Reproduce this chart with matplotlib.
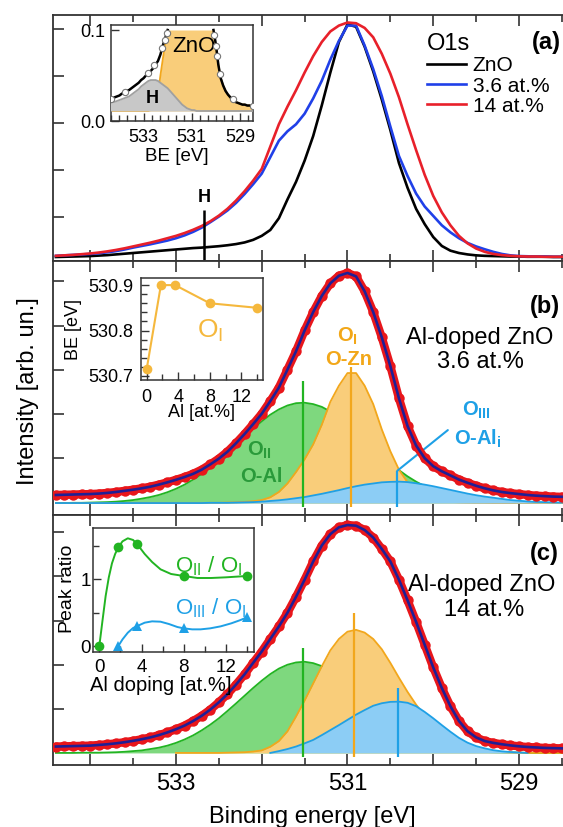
import numpy as np
import matplotlib
matplotlib.use("Agg")
import matplotlib.pyplot as plt
from matplotlib.ticker import MultipleLocator, FuncFormatter

plt.rcParams['font.family'] = ['Liberation Sans', 'DejaVu Sans']
plt.rcParams['mathtext.fontset'] = 'custom'
plt.rcParams['mathtext.rm'] = 'Liberation Sans'
plt.rcParams['mathtext.it'] = 'Liberation Sans:italic'
plt.rcParams['mathtext.bf'] = 'Liberation Sans:bold'

nan = np.nan

# ---------------- data ----------------
be = np.round(np.arange(534.4, 528.45, -0.1), 1)   # binding-energy sampling grid (eV)

# panel (a): normalised O1s spectra
zno_a = [0.000, 0.001, 0.002, 0.003, 0.004, 0.006, 0.008, 0.011, 0.014, 0.017,
         0.020, 0.023, 0.026, 0.029, 0.032, 0.035, 0.038, 0.040, 0.043, 0.046,
         0.050, 0.055, 0.062, 0.073, 0.090, 0.115, 0.165, 0.245, 0.320, 0.410,
         0.515, 0.645, 0.785, 0.915, 0.990, 0.980, 0.895, 0.790, 0.670, 0.540,
         0.400, 0.295, 0.205, 0.140, 0.085, 0.047, 0.027, 0.017, 0.011, 0.007,
         0.005, 0.004, 0.003, 0.002, 0.002, 0.001, 0.001, 0.001, 0.000, 0.000]
al36_a = [0.005, 0.007, 0.009, 0.011, 0.013, 0.016, 0.020, 0.025, 0.032, 0.040,
          0.047, 0.054, 0.062, 0.070, 0.080, 0.092, 0.107, 0.125, 0.148, 0.172,
          0.198, 0.230, 0.268, 0.310, 0.355, 0.425, 0.495, 0.535, 0.565, 0.610,
          0.675, 0.750, 0.840, 0.920, 0.985, 0.985, 0.900, 0.800, 0.685, 0.555,
          0.430, 0.345, 0.270, 0.215, 0.175, 0.135, 0.105, 0.080, 0.060, 0.045,
          0.033, 0.022, 0.013, 0.007, 0.004, 0.003, 0.002, 0.002, 0.001, 0.001]
al14_a = [0.005, 0.007, 0.009, 0.012, 0.015, 0.019, 0.024, 0.030, 0.037, 0.045,
          0.053, 0.061, 0.070, 0.080, 0.090, 0.102, 0.116, 0.132, 0.152, 0.176,
          0.205, 0.240, 0.280, 0.325, 0.375, 0.470, 0.565, 0.640, 0.710, 0.785,
          0.855, 0.915, 0.960, 0.985, 0.998, 0.995, 0.975, 0.935, 0.865, 0.780,
          0.680, 0.565, 0.455, 0.350, 0.260, 0.190, 0.135, 0.090, 0.058, 0.036,
          0.022, 0.013, 0.008, 0.005, 0.003, 0.002, 0.002, 0.001, 0.001, 0.001]
legend_labels = ['ZnO', '3.6 at.%', '14 at.%']
h_position = 532.67
h_top = 0.20

# inset (a): ZnO O1s close-up (clipped at 0.1)
inset_base = 0.011
inset_a_total = [0.024, 0.025, 0.026, 0.027, 0.028, 0.030, 0.031, 0.033, 0.034, 0.036,
                 0.038, 0.040, 0.042, 0.045, 0.047, 0.050, 0.052, 0.055, 0.058, 0.062,
                 0.066, 0.073, 0.083, 0.091, 0.100, nan, nan, nan, nan, nan,
                 nan, nan, nan, nan, nan, nan, nan, nan, nan, nan,
                 nan, nan, nan, 0.100, 0.084, 0.062, 0.047, 0.039, 0.033, 0.029,
                 0.026, 0.023, 0.021, 0.020, 0.019, 0.018, 0.018, 0.017, 0.017, 0.016]
inset_a_zno = [0.011, 0.011, 0.011, 0.011, 0.011, 0.011, 0.011, 0.011, 0.011, 0.011,
               0.011, 0.011, 0.011, 0.011, 0.011, 0.011, 0.011, 0.012, 0.014, 0.018,
               0.030, 0.050, 0.068, 0.085, 0.100, 0.100, 0.100, 0.100, 0.100, 0.100,
               0.100, 0.100, 0.100, 0.100, 0.100, 0.100, 0.100, 0.100, 0.100, 0.100,
               0.100, 0.100, 0.100, 0.100, 0.084, 0.062, 0.047, 0.039, 0.033, 0.029,
               0.026, 0.023, 0.021, 0.020, 0.019, 0.018, 0.018, 0.017, 0.017, 0.016]
inset_a_h = [0.020, 0.021, 0.021, 0.022, 0.023, 0.024, 0.025, 0.026, 0.027, 0.029,
             0.031, 0.033, 0.035, 0.038, 0.040, 0.042, 0.044, 0.045, 0.045, 0.045,
             0.044, 0.042, 0.040, 0.038, 0.036, 0.033, 0.030, 0.027, 0.024, 0.021,
             0.018, 0.016, 0.014, 0.013, 0.012, 0.012, 0.011, 0.011, 0.011, 0.011,
             0.011, 0.011, 0.011, 0.011, 0.011, 0.011, 0.011, 0.011, 0.011, 0.011,
             0.011, 0.011, 0.011, 0.011, 0.011, 0.011, 0.011, 0.011, 0.011, 0.011]
inset_a_meas_be = [534.35, 533.75, 532.8, 532.55, 532.25, 532.12, 532.03,
                   530.06, 530.0, 529.95, 529.85, 529.3, 528.45]
inset_a_meas_i = [0.024, 0.032, 0.053, 0.061, 0.080, 0.089, 0.097,
                  0.095, 0.082, 0.071, 0.052, 0.024, 0.016]

# panel (b): 3.6 at.% fit
data_b = [0.035, 0.036, 0.037, 0.038, 0.039, 0.041, 0.044, 0.048, 0.053, 0.058,
          0.064, 0.071, 0.080, 0.090, 0.101, 0.113, 0.127, 0.145, 0.168, 0.193,
          0.223, 0.260, 0.300, 0.343, 0.388, 0.443, 0.502, 0.580, 0.660, 0.750,
          0.830, 0.900, 0.955, 0.988, 1.000, 0.985, 0.920, 0.830, 0.720, 0.595,
          0.455, 0.335, 0.250, 0.195, 0.160, 0.138, 0.120, 0.102, 0.088, 0.075,
          0.064, 0.055, 0.048, 0.043, 0.039, 0.035, 0.032, 0.030, 0.028, 0.027]
green_b = [0.000, 0.000, 0.001, 0.001, 0.002, 0.003, 0.004, 0.006, 0.009, 0.013,
           0.019, 0.026, 0.035, 0.047, 0.062, 0.080, 0.102, 0.126, 0.155, 0.186,
           0.219, 0.254, 0.289, 0.323, 0.355, 0.384, 0.407, 0.424, 0.434, 0.436,
           0.430, 0.418, 0.398, 0.373, 0.343, 0.310, 0.275, 0.240, 0.205, 0.173,
           0.143, 0.116, 0.093, 0.073, 0.056, 0.042, 0.031, 0.023, 0.016, 0.012,
           0.008, 0.005, 0.004, 0.002, 0.002, 0.001, 0.001, 0.000, 0.000, 0.000]
orange_b = [0.000, 0.000, 0.000, 0.000, 0.000, 0.000, 0.000, 0.000, 0.000, 0.000,
            0.000, 0.000, 0.000, 0.000, 0.000, 0.000, 0.000, 0.000, 0.001, 0.001,
            0.002, 0.003, 0.005, 0.008, 0.013, 0.025, 0.048, 0.085, 0.135, 0.190,
            0.255, 0.340, 0.440, 0.510, 0.565, 0.565, 0.510, 0.430, 0.320, 0.225,
            0.145, 0.090, 0.052, 0.028, 0.015, 0.008, 0.005, 0.003, 0.002, 0.001,
            0.001, 0.000, 0.000, 0.000, 0.000, 0.000, 0.000, 0.000, 0.000, 0.000]
blue_b = [0.000, 0.000, 0.000, 0.000, 0.000, 0.000, 0.000, 0.000, 0.000, 0.000,
          0.000, 0.000, 0.000, 0.000, 0.000, 0.000, 0.000, 0.000, 0.001, 0.001,
          0.001, 0.002, 0.003, 0.004, 0.006, 0.009, 0.012, 0.016, 0.021, 0.026,
          0.033, 0.040, 0.048, 0.056, 0.065, 0.073, 0.080, 0.085, 0.090, 0.092,
          0.093, 0.091, 0.086, 0.080, 0.073, 0.065, 0.057, 0.049, 0.041, 0.034,
          0.028, 0.023, 0.018, 0.013, 0.010, 0.007, 0.005, 0.004, 0.003, 0.002]
centers_b = [531.52, 530.96, 530.42]
tops_b = [0.53, 0.59, 0.14]

# panel (c): 14 at.% fit
data_c = [0.028, 0.029, 0.030, 0.031, 0.032, 0.035, 0.038, 0.042, 0.047, 0.053,
          0.060, 0.068, 0.078, 0.090, 0.104, 0.120, 0.140, 0.163, 0.190, 0.222,
          0.258, 0.300, 0.345, 0.395, 0.445, 0.500, 0.555, 0.615, 0.685, 0.760,
          0.840, 0.910, 0.960, 0.990, 1.000, 0.997, 0.978, 0.945, 0.895, 0.840,
          0.760, 0.670, 0.575, 0.475, 0.375, 0.285, 0.205, 0.140, 0.095, 0.068,
          0.052, 0.044, 0.038, 0.033, 0.029, 0.026, 0.024, 0.022, 0.021, 0.020]
green_c = [0.000, 0.000, 0.000, 0.001, 0.001, 0.001, 0.002, 0.003, 0.005, 0.008,
           0.011, 0.017, 0.023, 0.032, 0.044, 0.059, 0.077, 0.099, 0.124, 0.152,
           0.184, 0.217, 0.251, 0.285, 0.317, 0.346, 0.370, 0.387, 0.397, 0.400,
           0.394, 0.381, 0.361, 0.335, 0.305, 0.272, 0.237, 0.203, 0.171, 0.140,
           0.113, 0.089, 0.069, 0.053, 0.039, 0.029, 0.020, 0.014, 0.010, 0.007,
           0.004, 0.003, 0.002, 0.001, 0.001, 0.000, 0.000, 0.000, 0.000, 0.000]
orange_c = [nan, nan, nan, nan, nan, nan, nan, nan, nan, nan,
            nan, nan, nan, nan, 0.000, 0.000, 0.000, 0.000, 0.000, 0.000,
            0.001, 0.002, 0.003, 0.006, 0.011, 0.027, 0.052, 0.095, 0.160, 0.230,
            0.305, 0.380, 0.450, 0.500, 0.532, 0.540, 0.528, 0.500, 0.455, 0.395,
            0.330, 0.268, 0.212, 0.163, 0.122, 0.088, 0.061, 0.041, 0.027, 0.017,
            0.011, 0.007, 0.004, 0.002, 0.001, 0.000, 0.000, 0.000, 0.000, 0.000]
blue_c = [nan, nan, nan, nan, nan, nan, nan, nan, nan, nan,
          nan, nan, nan, nan, nan, nan, nan, nan, nan, nan,
          nan, nan, nan, nan, nan, 0.000, 0.008, 0.017, 0.028, 0.042,
          0.057, 0.078, 0.100, 0.122, 0.145, 0.168, 0.188, 0.207, 0.218, 0.224,
          0.225, 0.220, 0.205, 0.180, 0.152, 0.122, 0.093, 0.066, 0.045, 0.030,
          0.020, 0.012, 0.007, 0.004, 0.002, 0.000, nan, nan, nan, nan]
centers_c = [531.52, 530.92, 530.41]
tops_c = [0.459, 0.613, 0.284]

# inset (b): O_I binding energy vs Al content
al_b = [0, 1.8, 3.6, 8, 14]
be_oi = [530.715, 530.90, 530.90, 530.86, 530.85]

# inset (c): peak ratios vs Al doping
al_ii = [0, 1.8, 3.6, 8, 14]
ratio_ii = [0.0, 1.48, 1.525, 1.05, 1.05]
al_iii = [1.8, 3.6, 8, 14]
ratio_iii = [0.0, 0.30, 0.265, 0.43]
guide_ii_al = [0, 0.3, 0.6, 0.9, 1.2, 1.5, 1.8, 2.2, 2.7, 3.2, 3.6, 4.3, 5.0, 5.8,
               6.8, 8.0, 9.3, 10.6, 12.0, 13.0, 14.0]
guide_ii = [0.0, 0.38, 0.75, 1.03, 1.24, 1.38, 1.48, 1.57, 1.615, 1.59, 1.525, 1.38,
            1.26, 1.15, 1.08, 1.05, 1.02, 1.02, 1.03, 1.04, 1.05]
guide_iii_al = [1.8, 2.2, 2.7, 3.2, 3.6, 4.3, 5.0, 5.8, 6.6, 7.4, 8.0, 8.8, 9.6,
                10.5, 11.5, 12.5, 13.3, 14.0]
guide_iii = [0.0, 0.10, 0.20, 0.27, 0.30, 0.35, 0.37, 0.365, 0.33, 0.285, 0.265,
             0.25, 0.25, 0.265, 0.295, 0.34, 0.385, 0.43]

# ---------------- style ----------------
RED = '#e8161b'
NAVY = '#1f1f96'
GF, GL, GT = '#7ed87e', '#22b422', '#2a9a3a'
OF, OL, OT = '#f9cd7a', '#f2a71c', '#f2a718'
BF, BL, BT = '#8ccdf5', '#1ea0e6', '#1ea0e6'
FRAME = '#333333'

W, H = 563.0, 827.0
fig = plt.figure(figsize=(W / 100, H / 100), dpi=100)


def fx(px):
    return px / W


def fy(py):
    return 1 - py / H


ax_a = fig.add_axes([fx(53), fy(261), 513 / W, 246 / H])
ax_b = fig.add_axes([fx(53), fy(515), 513 / W, 254 / H])
ax_c = fig.add_axes([fx(53), fy(765), 513 / W, 250 / H])

for ax in (ax_a, ax_b, ax_c):
    ax.set_xlim(534.434, 528.452)
    ax.xaxis.set_major_locator(MultipleLocator(1))
    ax.xaxis.set_minor_locator(MultipleLocator(0.5))
    ax.xaxis.set_major_formatter(FuncFormatter(lambda v, p: f'{v:.0f}' if int(round(v)) % 2 == 1 else ''))
    ax.tick_params(axis='x', which='both', direction='in', top=True, bottom=True,
                   width=1.2, color=FRAME, labelsize=17, pad=5.5)
    ax.tick_params(axis='x', which='major', length=8)
    ax.tick_params(axis='x', which='minor', length=5)
    ax.tick_params(axis='y', direction='in', left=True, right=False, length=8,
                   width=1.2, color=FRAME, labelleft=False)
    for s in ax.spines.values():
        s.set_linewidth(1.3)
        s.set_color(FRAME)
ax_a.tick_params(axis='x', labelbottom=False)
ax_b.tick_params(axis='x', labelbottom=False)

# ---- panel (a)
l1, = ax_a.plot(be, zno_a, color='black', lw=1.9)
l2, = ax_a.plot(be, al36_a, color='#2040e8', lw=1.9)
l3, = ax_a.plot(be, al14_a, color='#e8202a', lw=1.9)
ax_a.set_ylim(-0.017, 1.030)
ax_a.set_yticks([0.172, 0.372, 0.572, 0.772, 0.972])
ax_a.vlines(h_position, -0.017, h_top, color='black', lw=1.8)
ax_a.text(h_position, 0.255, 'H', ha='center', va='center', fontsize=13, fontweight='bold')
leg = ax_a.legend([l1, l2, l3], legend_labels, title='O1s', loc='upper left',
                  bbox_to_anchor=(0.729, 0.925), frameon=False, fontsize=15,
                  title_fontsize=17, handlelength=1.85, handletextpad=0.35,
                  labelspacing=0.05, borderaxespad=0, borderpad=0, alignment='left')
ax_a.text(528.68, 0.911, '(a)', ha='center', va='center', fontsize=17, fontweight='bold')


def draw_fit(ax, data, g, o, b, centers, tops):
    ax.fill_between(be, 0, g, color=GF, lw=0, zorder=1)
    ax.plot(be, g, color=GL, lw=1.3, zorder=1.1)
    ax.fill_between(be, 0, o, color=OF, lw=0, zorder=2)
    ax.plot(be, o, color=OL, lw=1.3, zorder=2.1)
    ax.fill_between(be, 0, b, color=BF, lw=0, zorder=3)
    ax.plot(be, b, color=BL, lw=1.3, zorder=3.1)
    ax.vlines(centers, -0.017, tops, colors=[GL, OL, BL], lw=1.6, zorder=4)
    ax.plot(be, data, color=RED, lw=6, marker='o', ms=7.5, mew=0, zorder=5,
            solid_capstyle='round')
    ax.plot(be, data, color=NAVY, lw=1.9, zorder=6)


# ---- panel (b)
draw_fit(ax_b, data_b, green_b, orange_b, blue_b, centers_b, tops_b)
ax_b.set_ylim(-0.052, 1.052)
ax_b.set_yticks([0.195, 0.387, 0.579, 0.771, 0.963])
ax_b.text(532.03, 0.23, r'O$_\mathbf{II}$', color=GT, fontsize=14.5, fontweight='bold', ha='center', va='center')
ax_b.text(532.00, 0.114, 'O-Al', color=GT, fontsize=14.5, fontweight='bold', ha='center', va='center')
ax_b.text(531.00, 0.723, r'O$_\mathbf{I}$', color=OT, fontsize=14.5, fontweight='bold', ha='center', va='center')
ax_b.text(530.99, 0.622, 'O-Zn', color=OT, fontsize=14.5, fontweight='bold', ha='center', va='center')
ax_b.text(529.50, 0.404, r'O$_\mathbf{III}$', color=BT, fontsize=14.5, fontweight='bold', ha='center', va='center')
ax_b.text(529.48, 0.281, r'O-Al$_\mathbf{i}$', color=BT, fontsize=14.5, fontweight='bold', ha='center', va='center')
ax_b.annotate('', xy=(centers_b[2], tops_b[2]), xytext=(529.83, 0.317),
              arrowprops=dict(arrowstyle='-', color=BL, lw=1.5, shrinkA=0, shrinkB=0), zorder=4)
ax_b.text(528.70, 0.853, '(b)', ha='center', va='center', fontsize=17, fontweight='bold')
ax_b.text(529.455, 0.716, 'Al-doped ZnO', ha='center', va='center', fontsize=17)
ax_b.text(529.45, 0.614, '3.6 at.%', ha='center', va='center', fontsize=17)

# ---- panel (c)
draw_fit(ax_c, data_c, green_c, orange_c, blue_c, centers_c, tops_c)
ax_c.set_ylim(-0.053, 1.044)
ax_c.set_yticks([0.193, 0.387, 0.581, 0.775, 0.969])
ax_c.text(528.70, 0.876, '(c)', ha='center', va='center', fontsize=17, fontweight='bold')
ax_c.text(529.43, 0.737, 'Al-doped ZnO', ha='center', va='center', fontsize=17)
ax_c.text(529.41, 0.627, '14 at.%', ha='center', va='center', fontsize=17)

fig.text(fx(28), fy(391), 'Intensity [arb. un.]', rotation=90, ha='center', va='center', fontsize=17)
fig.text(fx(312), fy(817), 'Binding energy [eV]', ha='center', va='center', fontsize=17)

# ---- inset (a)
axi_a = fig.add_axes([fx(110.7), fy(121), 142.6 / W, 96 / H])
axi_a.fill_between(be, inset_base, inset_a_zno, color=OF, lw=0, zorder=1)
zno_flank = np.where(np.array(inset_a_zno) < 0.1, inset_a_zno, nan)
axi_a.plot(be, zno_flank, color=OL, lw=1.3, zorder=2)
axi_a.fill_between(be, inset_base, inset_a_h, color='#c8c8c8', lw=0, zorder=3)
axi_a.plot(be, inset_a_h, color='#a0a0a0', lw=1.3, zorder=4)
axi_a.plot(be, inset_a_total, color='black', lw=1.8, zorder=5)
axi_a.plot(inset_a_meas_be, inset_a_meas_i, 'o', ms=4.5, mfc='white', mec='#777777', mew=0.8, zorder=6)
axi_a.set_xlim(534.36, 528.45)
axi_a.set_ylim(0, 0.1055)
axi_a.set_xticks([533, 531, 529])
axi_a.xaxis.set_minor_locator(MultipleLocator(1 / 3))
axi_a.set_yticks([0, 0.1])
axi_a.set_yticklabels(['0.0', '0.1'])
axi_a.text(530.93, 0.0816, 'ZnO', ha='center', va='center', fontsize=16)
axi_a.text(532.65, 0.025, 'H', ha='center', va='center', fontsize=13, fontweight='bold', zorder=7)
axi_a.set_xlabel('BE [eV]', fontsize=13.5)
axi_a.xaxis.label.set_va('center')
axi_a.xaxis.set_label_coords(0.463, -0.372)

# ---- inset (b)
axi_b = fig.add_axes([fx(141), fy(380), 121.7 / W, 101.7 / H])
axi_b.plot(al_b, be_oi, color='#f5b83d', lw=1.5, marker='o', ms=7, mew=0)
axi_b.set_xlim(-0.72, 14.7)
axi_b.set_ylim(530.691, 530.915)
axi_b.set_xticks([0, 4, 8, 12])
axi_b.xaxis.set_minor_locator(MultipleLocator(2))
axi_b.set_yticks([530.7, 530.8, 530.9])
axi_b.yaxis.set_minor_locator(MultipleLocator(0.02))
axi_b.text(6.4, 530.80, r'O$_\mathrm{I}$', color='#f5b83d', fontsize=19, ha='left', va='center')
axi_b.set_xlabel('Al [at.%]', fontsize=13)
axi_b.set_ylabel('BE [eV]', fontsize=13)
axi_b.xaxis.label.set_va('center')
axi_b.yaxis.label.set_va('center')
axi_b.xaxis.set_label_coords(0.499, -0.324)
axi_b.yaxis.set_label_coords(-0.555, 0.501)

# ---- inset (c)
axi_c = fig.add_axes([fx(93.3), fy(651.7), 160.7 / W, 123.4 / H])
axi_c.plot(guide_ii_al, guide_ii, color=GL, lw=1.4)
axi_c.plot(guide_iii_al, guide_iii, color=BL, lw=1.4)
axi_c.plot(al_ii, ratio_ii, 'o', color=GL, ms=7, mew=0)
axi_c.plot(al_iii, ratio_iii, '^', color=BL, ms=7.5, mew=0)
axi_c.set_xlim(-0.57, 14.66)
axi_c.set_ylim(-0.085, 1.765)
axi_c.set_xticks([0, 4, 8, 12])
axi_c.xaxis.set_minor_locator(MultipleLocator(2))
axi_c.set_yticks([0, 1])
axi_c.yaxis.set_minor_locator(MultipleLocator(0.5))
axi_c.text(7.18, 1.19, r'O$_\mathrm{II}$ / O$_\mathrm{I}$', color=GL, fontsize=16, ha='left', va='center')
axi_c.text(7.18, 0.565, r'O$_\mathrm{III}$ / O$_\mathrm{I}$', color=BL, fontsize=16, ha='left', va='center')
axi_c.set_xlabel('Al doping [at.%]', fontsize=14.5)
axi_c.set_ylabel('Peak ratio', fontsize=14)
axi_c.xaxis.label.set_va('center')
axi_c.yaxis.label.set_va('center')
axi_c.xaxis.set_label_coords(0.42, -0.27)
axi_c.yaxis.set_label_coords(-0.158, 0.508)

for axi, ls in ((axi_a, 13), (axi_b, 13), (axi_c, 13.5)):
    axi.set_facecolor('white')
    axi.tick_params(which='both', direction='in', top=False, right=False, width=1,
                    color=FRAME, labelsize=ls)
    axi.tick_params(which='major', length=6)
    axi.tick_params(which='minor', length=4)
    for s in axi.spines.values():
        s.set_linewidth(1.1)
        s.set_color(FRAME)
axi_a.tick_params(axis='x', pad=6)
axi_a.tick_params(axis='y', pad=4)
axi_b.tick_params(axis='x', pad=6.5)
axi_b.tick_params(axis='y', pad=5.5)
axi_c.tick_params(axis='x', pad=5)
axi_c.tick_params(axis='y', pad=2)

fig.savefig('out.png', dpi=100)
